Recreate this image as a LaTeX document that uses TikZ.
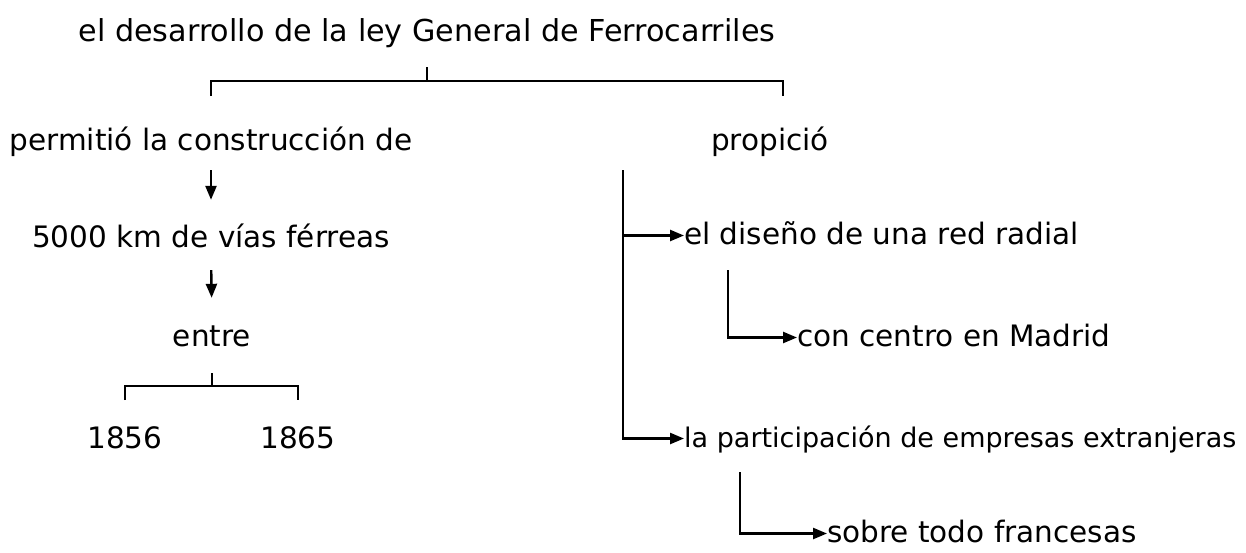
\documentclass[tikz,border=0pt]{standalone}
\usepackage{fontspec}
\setmainfont{DejaVu Sans}
\usepackage{tikz}
\usetikzlibrary{arrows.meta}

\tikzset{
  txt/.style = {inner sep=0pt, text height=23pt, text depth=6pt, font=\fontsize{29.5}{34}\selectfont},
  lin/.style = {line width=2.4pt},
  arr/.style = {line width=2.4pt, -{Triangle[length=14pt,width=11pt]}}
}

\begin{document}
\begin{tikzpicture}[x=1pt, y=-1pt]
\useasboundingbox (0,0) rectangle (1246,552);
% texts
\node [txt, anchor=base, font=\fontsize{30.2}{34}\selectfont] (ley) at (427,41) {el desarrollo de la ley General de Ferrocarriles};
\node [txt, anchor=base] (perm) at (211,150) {permitió la construcción de};
\node [txt, anchor=base] (prop) at (770,150) {propició};
\node [txt, anchor=base] (vias) at (211,247) {5000 km de vías férreas};
\node [txt, anchor=base] (entre) at (212,346) {entre};
\node [txt, anchor=base] (a1856) at (125,448) {1856};
\node [txt, anchor=base] (a1865) at (298,448) {1865};
\node [txt, anchor=base west] (diseno) at (684,244) {el diseño de una red radial};
\node [txt, anchor=base west] (madrid) at (797,346) {con centro en Madrid};
\node [txt, anchor=base west, font=\fontsize{27}{32}\selectfont] (part) at (684,447) {la participación de empresas extranjeras};
\node [txt, anchor=base west] (sobre) at (827,542) {sobre todo francesas};
% brackets
\coordinate (b1) at (427,81);
\coordinate (b2) at (212,386);
\draw [lin] (b1) -- ++(0,-14);
\draw [lin] (perm.north |- 0,96) |- (b1) -| (783,96);
\draw [lin] (b2) -- ++(0,-13);
\draw [lin] (a1856.north |- 0,400) |- (b2) -| (a1865.north |- 0,400);
% left column
\draw [arr, shorten <=14pt, shorten >=24pt] (perm.south) -- (vias.north);
\draw [arr, shorten <=17pt, shorten >=25pt] (vias.south) -- (entre.north);
% right column
\coordinate (tr) at (623,170);
\coordinate (s1) at (728,270);
\coordinate (s2) at (740,472);
\draw [lin] (tr) -- (tr |- part.west);
\draw [arr] (tr |- diseno.west) -- (diseno.west);
\draw [arr] (tr) |- (part.west);
\draw [arr] (s1) |- (madrid.west);
\draw [arr] (s2) |- (sobre.west);
\end{tikzpicture}
\end{document}
